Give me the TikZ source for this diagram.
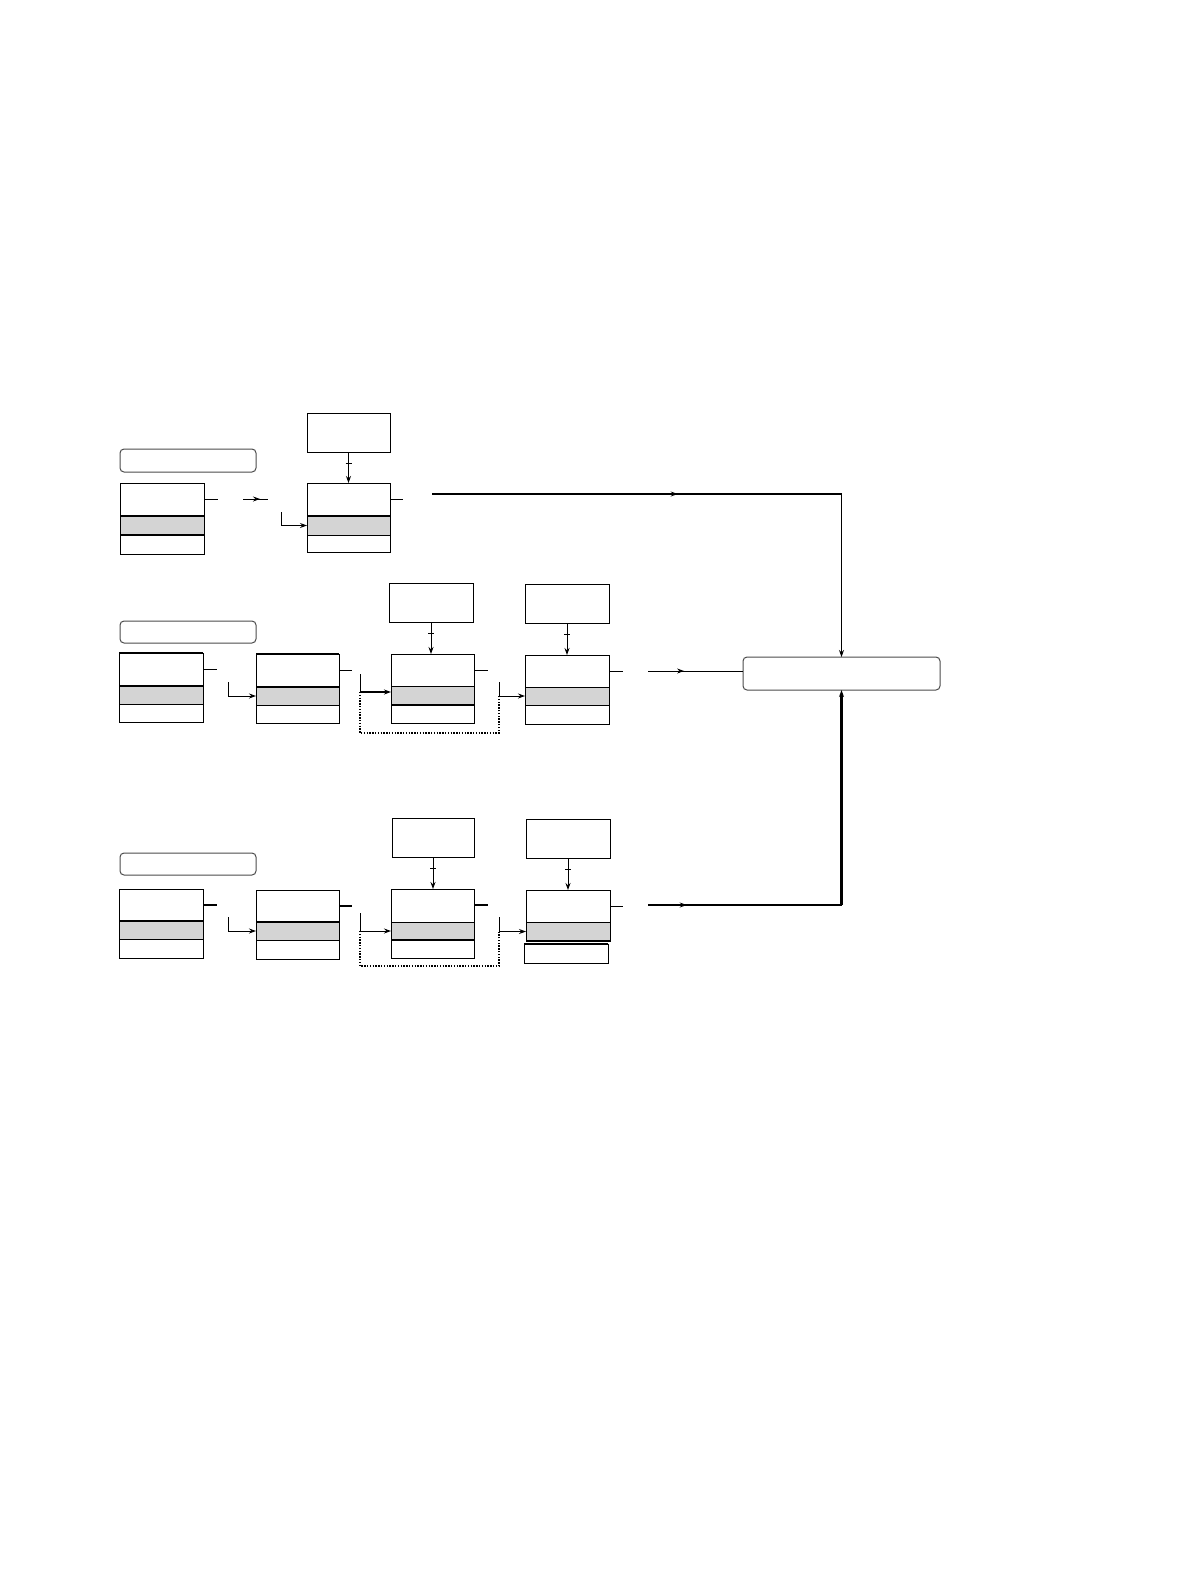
\documentclass[tikz,border=0pt]{standalone}
\usetikzlibrary{arrows.meta,decorations.markings}
\tikzset{
 thinline/.style={line width=1pt, draw=black},
 thickline/.style={line width=2.4pt, draw=black},
 tip/.style={-{Stealth[length=7pt,width=5pt]}},
 midarrow/.style={postaction=decorate, decoration={markings, mark=at position #1 with {\arrow{Stealth[length=7pt,width=5pt]}}}},
 cellframe/.style={draw=black, line width=1pt, inner sep=0pt, outer sep=0pt, anchor=north west},
 labelbox/.style={draw=black!70, line width=1pt, rounded corners=4pt, inner sep=0pt, outer sep=0pt, anchor=north west},
 dotline/.style={line width=1.4pt, dash pattern=on 1.4pt off 1.4pt},
 band/.style={fill=black!17},
}
\newcommand\cellbox[7]{%
 \fill[band] (#2,#5) rectangle (#3,#6);
 \coordinate (#1-d1w) at (#2,#5); \coordinate (#1-d1e) at (#3,#5);
 \coordinate (#1-d2w) at (#2,#6); \coordinate (#1-d2e) at (#3,#6);
 \coordinate (#1-in) at (#2,{(#5+#6)/2});
 \coordinate (#1-out) at (#3,{#4+16});
 \draw[thinline] (#1-d1w) -- (#1-d1e) (#1-d2w) -- (#1-d2e);
 \node[cellframe, minimum width={(#3-#2)*1pt}, minimum height={(#7-#4)*1pt}] (#1) at (#2,#4) {};
}
\newcommand\headarrow[2]{%
 \draw[thinline, tip] (#1.south) -- (#1.south |- #2.north);
 \draw[thinline] ([xshift=-3pt,yshift=-11pt]#1.south) -- ([xshift=3pt,yshift=-11pt]#1.south);
}
\begin{document}
\begin{tikzpicture}[x=1pt,y=-1pt]
\fill[white] (0,0) rectangle (1191,1587);
\useasboundingbox (0,0) rectangle (1191,1587);

% label boxes
\node[labelbox, minimum width=136pt, minimum height=23pt] (LA) at (120,449) {};
\node[labelbox, minimum width=136pt, minimum height=22pt] (LB) at (120,621) {};
\node[labelbox, minimum width=136pt, minimum height=22pt] (LC) at (120,853) {};

% target
\node[labelbox, minimum width=197pt, minimum height=33pt] (T) at (743,657) {};

% headers
\node[cellframe, minimum width=83pt, minimum height=39pt] (h12) at (307,413) {};
\node[cellframe, minimum width=84pt, minimum height=39pt] (h23) at (389,583) {};
\node[cellframe, minimum width=84pt, minimum height=39pt] (h24) at (525,584) {};
\node[cellframe, minimum width=82pt, minimum height=39pt] (h33) at (392,818) {};
\node[cellframe, minimum width=84pt, minimum height=39pt] (h34) at (526,819) {};

% row 1
\cellbox{b11}{120}{204}{483}{516}{535}{554}
\cellbox{b12}{307}{390}{483}{516}{535}{552}
\draw[thickline] (b11-d1w) -- (b11-d1e) (b11-d2w) -- (b11-d2e);
\draw[thickline] (b12-d1w) -- (b12-d1e);

% row 2
\cellbox{b21}{119}{203}{653}{686}{704}{722}
\cellbox{b22}{256}{339}{654}{687}{705}{723}
\cellbox{b23}{391}{474}{654}{686}{705}{723}
\cellbox{b24}{525}{609}{655}{687}{705}{724}
\draw[thickline] (b21.north west) -- (b21.north east) (b21-d1w) -- (b21-d1e);
\draw[thickline] (b22.north west) -- (b22.north east) (b22-d1w) -- (b22-d1e);
\draw[thickline] (b23-d2w) -- (b23-d2e);

% row 3
\cellbox{b31}{119}{203}{889}{921}{939}{958}
\cellbox{b32}{256}{339}{890}{922}{940}{959}
\cellbox{b33}{391}{474}{889}{922}{940}{958}
\cellbox{b34}{526}{610}{890}{922}{941}{941}
\node[cellframe, minimum width=84pt, minimum height=19pt] (b34x) at (524,944) {};
\draw[thickline] (b31-d1w) -- (b31-d1e);
\draw[thickline] (b32-d1w) -- (b32-d1e);
\draw[thickline] (b33-d2w) -- (b33-d2e);
\draw[thickline] (b34-d2w) -- (b34-d2e);
\draw[thickline] (b34x.north west) -- (b34x.north east);

% header arrows
\headarrow{h12}{b12}
\headarrow{h23}{b23}
\headarrow{h24}{b24}
\headarrow{h33}{b33}
\headarrow{h34}{b34}

% stubs
\draw[thinline] (b11-out) -- ++(14,0) coordinate (s11);
\draw[thinline] (b12-out) -- ++(13,0) coordinate (s12);
\draw[thinline] (b21-out) -- ++(14,0) coordinate (s21);
\draw[thinline] (b22-out) -- ++(13,0) coordinate (s22);
\draw[thinline] (b23-out) -- ++(14,0) coordinate (s23);
\draw[thinline] (b24-out) -- ++(14,0) coordinate (s24);
\draw[thickline] (b31-out) -- ++(14,0) coordinate (s31);
\draw[thickline] (b32-out) -- ++(13,0) coordinate (s32);
\draw[thickline] (b33-out) -- ++(14,0) coordinate (s33);
\draw[thinline] (b34-out) -- ++(13,0) coordinate (s34);

% row 1 connectors
\coordinate (a1s) at (243,499);
\coordinate (a1e) at (268,499);
\draw[thinline, midarrow=0.68] (a1s) -- (a1e);
\coordinate (L12) at (281,512);
\draw[thinline, tip] (L12) |- (b12-in);
\coordinate (r1s) at (432,494);
\coordinate (r1c) at (r1s -| T.north);
\draw[thickline, midarrow=0.6] (r1s) -- (r1c);
\draw[thinline, tip] (r1c) -- (T.north);

% row 2 connectors
\coordinate (L22) at (228,682);
\draw[thinline, tip] (L22) |- (b22-in);
\coordinate (L23) at (360,674);
\coordinate (L23c) at (360,692);
\draw[thinline] (L23) -- (L23c);
\draw[thickline, tip] (L23c) -- (L23c -| b23.west);
\coordinate (L24) at (499,682);
\draw[thinline, tip] (L24) |- (b24-in);
\coordinate (D2a) at (360,733);
\coordinate (D2b) at (499,733);
\draw[dotline] (L23c) -- (D2a) -- (D2b) -- (L24 |- b24-in);
\coordinate (r2s) at (648,671);
\draw[thinline, midarrow=0.38] (r2s) -- (r2s -| T.west);

% row 3 connectors
\coordinate (L32) at (228,917);
\draw[thinline, tip] (L32) |- (b32-in);
\coordinate (L33) at (360,913);
\draw[thinline, tip] (L33) |- (b33-in);
\coordinate (L34) at (499,917);
\draw[thinline, tip] (L34) |- (b34-in);
\coordinate (D3a) at (360,966);
\coordinate (D3b) at (499,966);
\draw[dotline] (L33 |- b33-in) -- (D3a) -- (D3b) -- (L34 |- b34-in);
\coordinate (r3s) at (648,905);
\coordinate (r3c) at (r3s -| T.south);
\draw[thickline, midarrow=0.2] (r3s) -- (r3c);
\draw[thickline, tip] (r3c) -- (T.south);
\end{tikzpicture}
\end{document}
